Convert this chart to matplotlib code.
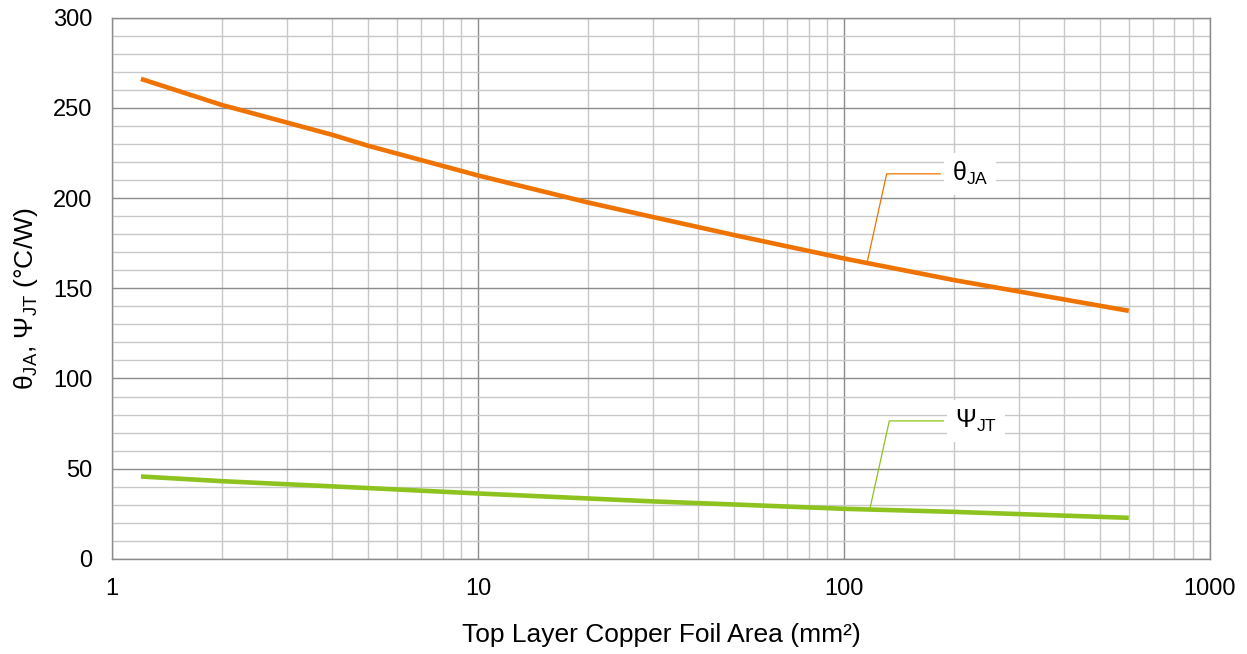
import numpy as np
import matplotlib
matplotlib.use("Agg")
import matplotlib.pyplot as plt
from matplotlib.ticker import LogLocator, MultipleLocator, NullFormatter, FixedLocator, FixedFormatter

# thermal resistance vs. top-layer copper foil area
area_ja = [1.2, 2, 4, 5, 10, 20, 30, 50, 100, 200, 600]
theta_ja = [266, 251.5, 235, 229, 212.5, 197.5, 189.5, 179.5, 166.5, 154.5, 137.5]

area_jt = [1.2, 2, 5, 10, 30, 50, 100, 200, 600]
psi_jt = [45.7, 43.1, 39.3, 36.3, 31.9, 30.2, 27.8, 26.1, 22.8]

x_ticks = [1, 10, 100, 1000]
x_labels = ["1", "10", "100", "1000"]
y_ticks = [0, 50, 100, 150, 200, 250, 300]

# callout labels: (point on curve, elbow, text position)
ja_callout = [(116, 165.4), (130.8, 213.4), (197, 213.5)]
jt_callout = [(117.8, 28.1), (133, 76.5), (201, 76.5)]

ORANGE = "#EF7300"
GREEN = "#8DC21F"

plt.rcParams["font.family"] = "Liberation Sans"
plt.rcParams["mathtext.default"] = "regular"

fig = plt.figure(figsize=(12.47, 6.54), dpi=100)
ax = fig.add_axes([0.0898, 0.1453, 0.9703 - 0.0898, 0.9732 - 0.1453])

ax.set_xscale("log")
ax.set_xlim(1, 1000)
ax.set_ylim(0, 300)

ax.xaxis.set_major_locator(FixedLocator(x_ticks))
ax.xaxis.set_major_formatter(FixedFormatter(x_labels))
ax.xaxis.set_minor_locator(LogLocator(base=10, subs=np.arange(2, 10)))
ax.xaxis.set_minor_formatter(NullFormatter())
ax.yaxis.set_major_locator(FixedLocator(y_ticks))
ax.yaxis.set_minor_locator(MultipleLocator(10))

ax.grid(which="minor", color="#c8c8c8", lw=1.0)
ax.grid(which="major", color="#8c8c8c", lw=1.0)
ax.set_axisbelow(True)
for s in ax.spines.values():
    s.set_color("#8c8c8c")
    s.set_linewidth(1.0)

ax.tick_params(which="both", length=0, labelsize=17, pad=14, colors="black")

ax.plot(area_ja, theta_ja, color=ORANGE, lw=3.3, solid_capstyle="butt", zorder=3)
ax.plot(area_jt, psi_jt, color=GREEN, lw=3.3, solid_capstyle="butt", zorder=3)

for pts, color, label in [(ja_callout, ORANGE, "θ$_{JA}$"), (jt_callout, GREEN, "Ψ$_{JT}$")]:
    (x0, y0), (x1, y1), (xt, yt) = pts
    ax.plot([x0, x1, xt * 0.93], [y0, y1, y1], color=color, lw=0.9, zorder=4)
    ax.text(xt, yt, label, fontsize=18, ha="left", va="center", zorder=5,
            bbox=dict(boxstyle="square,pad=0.3", facecolor="white", edgecolor="none"))

ax.set_xlabel("Top Layer Copper Foil Area (mm²)", fontsize=19, labelpad=16)
ax.set_ylabel("θ$_{JA}$, Ψ$_{JT}$ (°C/W)", fontsize=19)
ax.yaxis.set_label_coords(-0.066, 0.48)

fig.savefig("out.png", dpi=100)
